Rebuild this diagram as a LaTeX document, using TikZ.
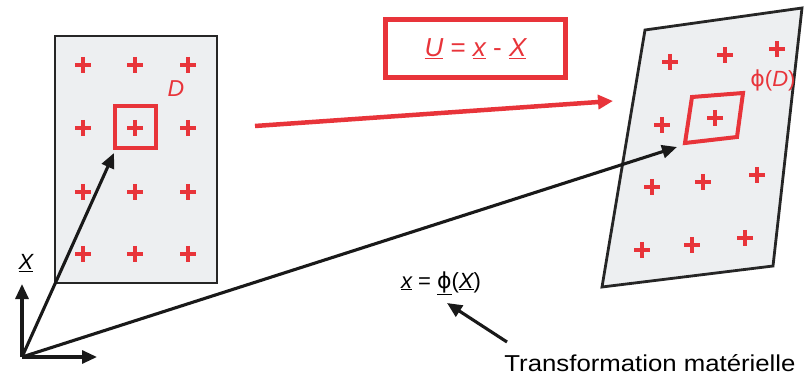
\documentclass[tikz,border=0pt]{standalone}
\usepackage{fontspec}
\setmainfont{Liberation Sans}
\newfontfamily\phifont{DejaVu Sans}
\usetikzlibrary{arrows.meta}
\definecolor{myred}{RGB}{232,52,58}
\definecolor{paper}{RGB}{237,239,241}
\newcommand{\uit}[1]{\underline{\itshape #1}}
\newcommand{\myphi}{{\phifont ϕ}}
\begin{document}
\begin{tikzpicture}[x=1pt,y=-1pt,
  redplus/.pic={\draw[myred,line width=4.5pt] (-8,0)--(8,0) (0,-8)--(0,8);},
  sheet/.style={draw=black!85,line width=2.8pt,fill=paper},
  redbox/.style={draw=myred,line width=4pt},
  blackarrow/.style={draw=black!90,line width=3.1pt,-{Triangle[length=15pt,width=13pt]}},
  redarrow/.style={draw=myred,line width=4.5pt,-{Triangle[length=15pt,width=14pt]}},
  lab/.style={inner sep=0pt,font=\fontsize{22}{26}\selectfont},
  redlab/.style={lab,text=myred}]
\useasboundingbox (0,0) rectangle (807,377);
\fill[white] (0,0) rectangle (807,377);
% left sheet
\draw[sheet] (55,36) rectangle (217,283);
\foreach \px/\py in {83/65,135/65,188/65,83/128,135/128,188/128,83/192,135/192,188/192,83/254,135/254,188/254}
  \pic at (\px,\py) {redplus};
\draw[redbox] (115,106) rectangle (156,148);
\coordinate (Dsw) at (114,153);
\node[redlab,font=\fontsize{23}{26}\selectfont] (Dlab) at (176,89) {\itshape D};
% right sheet
\draw[sheet] (645,30) -- (802,8) -- (773,266) -- (602,287) -- cycle;
\foreach \px/\py in {670/62,725/55,777/49,662/125,715/118,652/187,703/182,757/175,642/250,692/245,745/238}
  \pic at (\px,\py) {redplus};
\draw[redbox] (692,97) -- (743,93) -- (737,137) -- (685,143) -- cycle;
\coordinate (phiD) at (677,147);
\node[redlab] (phiDlab) at (773,80) {\myphi(\itshape D\/\upshape)};
% displacement box
\node[draw=myred,line width=5pt,minimum width=180pt,minimum height=58pt,text=myred,font=\fontsize{26}{28}\selectfont] (U) at (475.5,48.5) {\uit{U} = \uit{x} - \uit{X}};
\coordinate (ra) at (255,126);
\coordinate (rb) at (613,101);
\draw[redarrow] (ra) -- (rb);
% origin and axes
\coordinate (O) at (22,357);
\coordinate (ey) at (22,284);
\coordinate (ex) at (97,357);
\draw[blackarrow] (O) -- (ey);
\draw[blackarrow] (O) -- (ex);
\node[lab] (Xlab) at (26,263) {\uit{X}};
\draw[blackarrow] (O) -- (Dsw);
\draw[blackarrow] (O) -- (phiD);
% transformation
\node[lab] (F) at (441,283) {\uit{x} = \underline{\myphi}(\uit{X})};
\coordinate (tt) at (507,342);
\coordinate (th) at (447,303);
\draw[blackarrow] (tt) -- (th);
\node[lab,font=\fontsize{23}{26}\selectfont,xscale=1.12] (T) at (650,363) {Transformation matérielle};
\end{tikzpicture}
\end{document}
